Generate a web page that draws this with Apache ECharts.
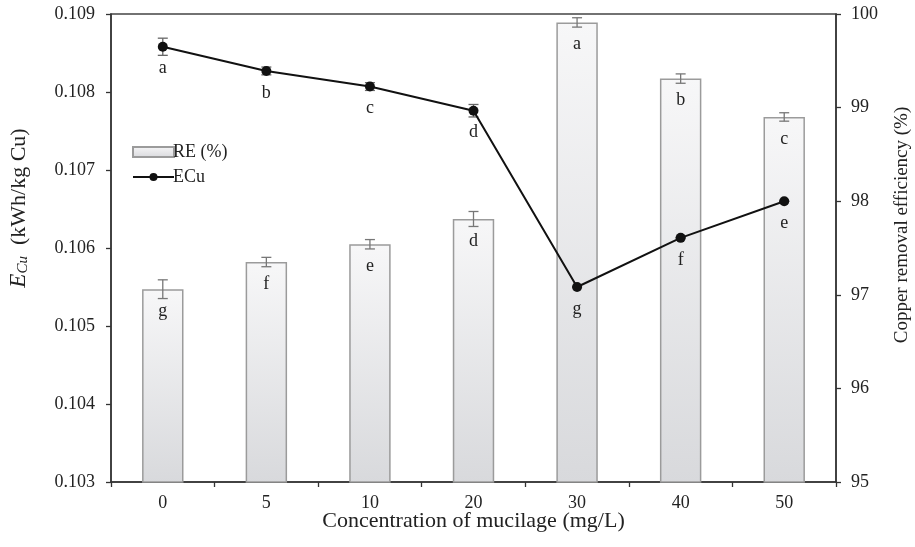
<!DOCTYPE html>
<html>
<head>
<meta charset="utf-8">
<script src="https://cdn.jsdelivr.net/npm/echarts@6/dist/echarts.min.js"></script>
<style>html,body{margin:0;padding:0;background:#fff;}#c{width:915px;height:547px;}</style>
</head>
<body>
<div id="c"></div>
<script>
const categories = ['0', '5', '10', '20', '30', '40', '50'];
const reValues = [97.06, 97.35, 97.54, 97.81, 99.91, 99.31, 98.90];
const reErrors = [0.10, 0.05, 0.05, 0.08, 0.05, 0.05, 0.045];
const reLetters = ['g', 'f', 'e', 'd', 'a', 'b', 'c'];
const ecuValues = [0.10858, 0.10827, 0.10807, 0.10776, 0.10550, 0.10613, 0.10660];
const ecuErrors = [0.00011, 0.00005, 0.00005, 0.00008, 0, 0, 0];
const ecuLetters = ['a', 'b', 'c', 'd', 'g', 'f', 'e'];
const leftTicks = [0.103, 0.109, 0.001];
const rightTicks = [95, 100, 1];

const FONT = "'Liberation Serif', 'DejaVu Serif', serif";
const chart = echarts.init(document.getElementById('c'));

function errBar(color) {
  return function (params, api) {
    const i = api.value(0);
    const lo = api.coord([i, api.value(1)]);
    const hi = api.coord([i, api.value(2)]);
    const w = 5;
    const st = { stroke: color, lineWidth: 1.3 };
    return {
      type: 'group',
      children: [
        { type: 'line', shape: { x1: lo[0], y1: lo[1], x2: hi[0], y2: hi[1] }, style: st },
        { type: 'line', shape: { x1: lo[0] - w, y1: lo[1], x2: lo[0] + w, y2: lo[1] }, style: st },
        { type: 'line', shape: { x1: hi[0] - w, y1: hi[1], x2: hi[0] + w, y2: hi[1] }, style: st }
      ]
    };
  };
}

const axisLineStyle = { color: '#333', width: 1.5 };
const labelStyle = { color: '#222', fontFamily: FONT, fontSize: 18 };

chart.setOption({
  animation: false,
  backgroundColor: '#fff',
  grid: { left: 111, right: 79, top: 14, bottom: 65, show: true, borderColor: '#444', borderWidth: 1.5, containLabel: false, outerBoundsMode: 'none' },
  legend: {
    data: [
      { name: 'RE (%)', icon: 'rect' },
      { name: 'ECu' }
    ],
    orient: 'vertical',
    left: 127, top: 138,
    itemWidth: 41, itemHeight: 10, itemGap: 7,
    textStyle: { fontFamily: FONT, fontSize: 18, color: '#222', padding: [0, 0, 0, -6] }
  },
  xAxis: {
    type: 'category',
    data: categories,
    boundaryGap: true,
    name: 'Concentration of mucilage (mg/L)',
    nameLocation: 'middle',
    nameGap: 28,
    nameMoveOverlap: false,
    nameTextStyle: { fontFamily: FONT, fontSize: 22, color: '#222' },
    axisLine: { lineStyle: axisLineStyle },
    axisTick: { show: true, inside: false, length: 5, lineStyle: { color: '#333', width: 1.3 } },
    axisLabel: Object.assign({ margin: 12 }, labelStyle),
    splitLine: { show: false }
  },
  yAxis: [
    {
      type: 'value',
      min: leftTicks[0], max: leftTicks[1], interval: leftTicks[2],
      position: 'left',
      name: '{i|E}{s|Cu}{n|  (kWh/kg Cu)}',
      nameLocation: 'middle',
      nameGap: 80,
      nameRotate: 90,
      nameTextStyle: {
        fontFamily: FONT, fontSize: 22, color: '#222',
        padding: [0, 0, 0, 80],
        rich: {
          i: { fontFamily: FONT, fontSize: 23, fontStyle: 'italic', color: '#222' },
          s: { fontFamily: FONT, fontSize: 15, fontStyle: 'italic', color: '#222', verticalAlign: 'bottom', padding: [9, 0, 0, 0] },
          n: { fontFamily: FONT, fontSize: 22, color: '#222' }
        }
      },
      axisLine: { show: true, lineStyle: axisLineStyle },
      axisTick: { show: true, inside: false, length: 5, lineStyle: { color: '#333', width: 1.3 } },
      axisLabel: Object.assign({ margin: 16, formatter: v => v.toFixed(3) }, labelStyle),
      splitLine: { show: false }
    },
    {
      type: 'value',
      min: rightTicks[0], max: rightTicks[1], interval: rightTicks[2],
      position: 'right',
      name: 'Copper removal efficiency (%)',
      nameLocation: 'middle',
      nameGap: 57,
      nameRotate: 90,
      nameTextStyle: { fontFamily: FONT, fontSize: 19, color: '#222', padding: [0, 0, 0, 46] },
      axisLine: { show: true, lineStyle: axisLineStyle },
      axisTick: { show: true, inside: false, length: 5, lineStyle: { color: '#333', width: 1.3 } },
      axisLabel: Object.assign({ margin: 15 }, labelStyle),
      splitLine: { show: false }
    }
  ],
  series: [
    {
      name: 'RE (%)',
      type: 'bar',
      yAxisIndex: 1,
      data: reValues,
      barWidth: '40%',
      itemStyle: {
        color: new echarts.graphic.LinearGradient(0, 0, 0, 1, [
          { offset: 0, color: '#f7f7f8' },
          { offset: 1, color: '#d8d9dc' }
        ]),
        borderColor: '#9b9b9b',
        borderWidth: 1.5
      },
      label: {
        show: true, position: 'insideTop', distance: 13,
        formatter: p => reLetters[p.dataIndex],
        fontFamily: FONT, fontSize: 18, color: '#222'
      },
      z: 2
    },
    {
      name: 'RE err',
      type: 'custom',
      yAxisIndex: 1,
      renderItem: errBar('#777'),
      data: reValues.map((v, i) => [i, v - reErrors[i], v + reErrors[i]]),
      encode: { x: 0, y: [1, 2] },
      z: 3
    },
    {
      name: 'ECu',
      type: 'line',
      yAxisIndex: 0,
      data: ecuValues,
      symbol: 'circle',
      symbolSize: 10,
      itemStyle: { color: '#111' },
      lineStyle: { color: '#111', width: 2 },
      label: {
        show: true, position: 'bottom', distance: 8,
        formatter: p => ecuLetters[p.dataIndex],
        fontFamily: FONT, fontSize: 18, color: '#222'
      },
      z: 5
    },
    {
      name: 'ECu err',
      type: 'custom',
      yAxisIndex: 0,
      renderItem: errBar('#666'),
      data: ecuValues.map((v, i) => [i, v - ecuErrors[i], v + ecuErrors[i]]),
      encode: { x: 0, y: [1, 2] },
      z: 4
    }
  ]
});
</script>
</body>
</html>
